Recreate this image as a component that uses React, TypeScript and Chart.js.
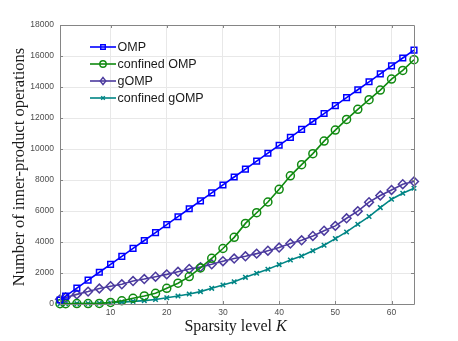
import React, { useEffect, useRef } from "react";
import { Chart, registerables } from "chart.js";

Chart.register(...registerables);

const sparsityK = [1, 2, 4, 6, 8, 10, 12, 14, 16, 18, 20, 22, 24, 26, 28, 30, 32, 34, 36, 38, 40, 42, 44, 46, 48, 50, 52, 54, 56, 58, 60, 62, 64];
const ompOps = [256, 512, 1024, 1536, 2048, 2560, 3072, 3584, 4096, 4608, 5120, 5632, 6144, 6656, 7168, 7680, 8192, 8704, 9216, 9728, 10240, 10752, 11264, 11776, 12288, 12800, 13312, 13824, 14336, 14848, 15360, 15872, 16384];
const confinedOmpOps = [20, 20, 25, 30, 40, 100, 210, 370, 520, 690, 1010, 1340, 1770, 2330, 2950, 3580, 4300, 5200, 5890, 6580, 7400, 8270, 8990, 9700, 10510, 11220, 11910, 12560, 13180, 13800, 14510, 15070, 15760];
const gompOps = [300, 420, 620, 800, 1000, 1150, 1270, 1480, 1610, 1760, 1910, 2080, 2260, 2380, 2560, 2760, 2930, 3080, 3250, 3440, 3640, 3900, 4110, 4390, 4730, 5040, 5530, 5990, 6570, 7000, 7360, 7730, 7900];
const confinedGompOps = [10, 15, 25, 35, 50, 80, 120, 170, 220, 290, 400, 520, 640, 800, 1010, 1230, 1440, 1720, 1980, 2240, 2540, 2840, 3100, 3440, 3790, 4220, 4650, 5150, 5640, 6220, 6760, 7150, 7470];

const xTicks = [10, 20, 30, 40, 50, 60];
const yTicks = [0, 2000, 4000, 6000, 8000, 10000, 12000, 14000, 16000, 18000];

const seriesNames = ["OMP", "confined OMP", "gOMP", "confined gOMP"];
const seriesColors = ["#0000ff", "#108a10", "#4b3a9e", "#008585"];
const seriesStyles = ["rect", "circle", "rectRot", "crossRot"];
const seriesRadii = [4.0, 4, 4.4, 3.2];

const xTitle = "Sparsity level ";
const xTitleItalic = "K";
const yTitle = "Number of inner-product operations";

const AXIS_COLOR = "#858585";

function drawMarker(ctx: CanvasRenderingContext2D, style: string, x: number, y: number, r: number, color: string) {
  ctx.save();
  ctx.strokeStyle = color;
  ctx.lineWidth = 1.4;
  ctx.beginPath();
  if (style === "rect") {
    const s = Math.SQRT1_2 * r;
    ctx.rect(x - s, y - s, 2 * s, 2 * s);
  } else if (style === "circle") {
    ctx.arc(x, y, r, 0, Math.PI * 2);
  } else if (style === "rectRot") {
    ctx.moveTo(x, y - r);
    ctx.lineTo(x + r * 0.8, y);
    ctx.lineTo(x, y + r);
    ctx.lineTo(x - r * 0.8, y);
    ctx.closePath();
  } else {
    const s = Math.SQRT1_2 * r;
    ctx.moveTo(x - s, y - s);
    ctx.lineTo(x + s, y + s);
    ctx.moveTo(x + s, y - s);
    ctx.lineTo(x - s, y + s);
  }
  ctx.stroke();
  ctx.restore();
}

const boxPlugin = {
  id: "matlabBox",
  afterDraw(chart: any) {
    const { ctx, chartArea } = chart;
    const { left, right, top, bottom } = chartArea;
    const xs = chart.scales.x;
    const ys = chart.scales.y;
    ctx.save();
    ctx.strokeStyle = AXIS_COLOR;
    ctx.lineWidth = 1;
    ctx.beginPath();
    ctx.rect(Math.round(left) + 0.5, Math.round(top) + 0.5, Math.round(right - left), Math.round(bottom - top));
    ctx.stroke();
    ctx.beginPath();
    for (const v of xTicks) {
      const px = Math.round(xs.getPixelForValue(v)) + 0.5;
      ctx.moveTo(px, bottom);
      ctx.lineTo(px, bottom - 3);
      ctx.moveTo(px, top);
      ctx.lineTo(px, top + 3);
    }
    for (const v of yTicks) {
      const py = Math.round(ys.getPixelForValue(v)) + 0.5;
      ctx.moveTo(left, py);
      ctx.lineTo(left + 3, py);
      ctx.moveTo(right, py);
      ctx.lineTo(right - 3, py);
    }
    ctx.stroke();

    // Axis titles
    ctx.fillStyle = "#1a1a1a";
    ctx.textBaseline = "alphabetic";
    const serifN = "16px 'Liberation Serif', 'Times New Roman', serif";
    const serifI = "italic 16px 'Liberation Serif', 'Times New Roman', serif";
    ctx.font = serifN;
    const w1 = ctx.measureText(xTitle).width;
    ctx.font = serifI;
    const w2 = ctx.measureText(xTitleItalic).width;
    const cx = 235.5;
    const startX = cx - (w1 + w2) / 2;
    ctx.font = serifN;
    ctx.textAlign = "left";
    ctx.fillText(xTitle, startX, 331);
    ctx.font = serifI;
    ctx.fillText(xTitleItalic, startX + w1, 331);

    ctx.save();
    ctx.translate(24, 167);
    ctx.rotate(-Math.PI / 2);
    ctx.font = "16.5px 'Liberation Serif', 'Times New Roman', serif";
    ctx.textAlign = "center";
    ctx.fillText(yTitle, 0, 0);
    ctx.restore();

    // Legend
    const rowsY = [47, 64, 81, 98];
    ctx.font = "12.5px 'Liberation Sans', Arial, sans-serif";
    ctx.textAlign = "left";
    ctx.textBaseline = "middle";
    seriesNames.forEach((name, i) => {
      const y = rowsY[i];
      ctx.strokeStyle = seriesColors[i];
      ctx.lineWidth = 1.6;
      ctx.beginPath();
      ctx.moveTo(90, y);
      ctx.lineTo(116, y);
      ctx.stroke();
      drawMarker(ctx, seriesStyles[i], 103, y, seriesRadii[i] * 0.8, seriesColors[i]);
      ctx.fillStyle = "#1a1a1a";
      ctx.fillText(name, 117.5, y + 0.5);
    });
    ctx.restore();
  },
};

export default function App() {
  const canvasRef = useRef<HTMLCanvasElement | null>(null);

  useEffect(() => {
    document.body.style.margin = "0";
    const canvas = canvasRef.current;
    if (!canvas) return;
    const allSeries = [ompOps, confinedOmpOps, gompOps, confinedGompOps];
    const chart = new Chart(canvas, {
      type: "line",
      data: {
        datasets: allSeries.map((vals, i) => ({
          label: seriesNames[i],
          data: sparsityK.map((k, j) => ({ x: k, y: vals[j] })),
          borderColor: seriesColors[i],
          backgroundColor: "rgba(0,0,0,0)",
          borderWidth: 1.6,
          pointStyle: seriesStyles[i] as any,
          pointRadius: seriesRadii[i],
          pointBorderWidth: 1.5,
          pointBorderColor: seriesColors[i],
          pointBackgroundColor: "rgba(0,0,0,0)",
          tension: 0,
          fill: false,
          clip: 10,
        })),
      },
      options: {
        responsive: false,
        animation: false,
        devicePixelRatio: 1,
        layout: { padding: { left: 0, right: 44, top: 25, bottom: 0 } },
        plugins: {
          legend: { display: false },
          tooltip: { enabled: false },
          title: { display: false },
        },
        scales: {
          x: {
            type: "linear",
            min: 1,
            max: 64,
            afterBuildTicks: (scale: any) => {
              scale.ticks = xTicks.map((v) => ({ value: v }));
            },
            afterFit: (scale: any) => {
              scale.height = 37;
            },
            grid: { color: "#e8e8e8", lineWidth: 1, drawTicks: false },
            border: { display: false },
            ticks: {
              padding: 4,
              color: "#4d4d4d",
              font: { family: "'Liberation Sans', Arial, sans-serif", size: 8.5 },
              maxRotation: 0,
              callback: (v: any) => String(v),
            },
          },
          y: {
            type: "linear",
            min: 0,
            max: 18000,
            afterBuildTicks: (scale: any) => {
              scale.ticks = yTicks.map((v) => ({ value: v }));
            },
            afterFit: (scale: any) => {
              scale.width = 60;
            },
            grid: { color: "#e8e8e8", lineWidth: 1, drawTicks: false },
            border: { display: false },
            ticks: {
              padding: 6,
              color: "#4d4d4d",
              font: { family: "'Liberation Sans', Arial, sans-serif", size: 8.5 },
              callback: (v: any) => String(v),
            },
          },
        },
      },
      plugins: [boxPlugin],
    });
    return () => chart.destroy();
  }, []);

  return (
    <div style={{ width: 458, height: 341 }}>
      <canvas ref={canvasRef} width={458} height={341} style={{ width: 458, height: 341, display: "block" }} />
    </div>
  );
}
